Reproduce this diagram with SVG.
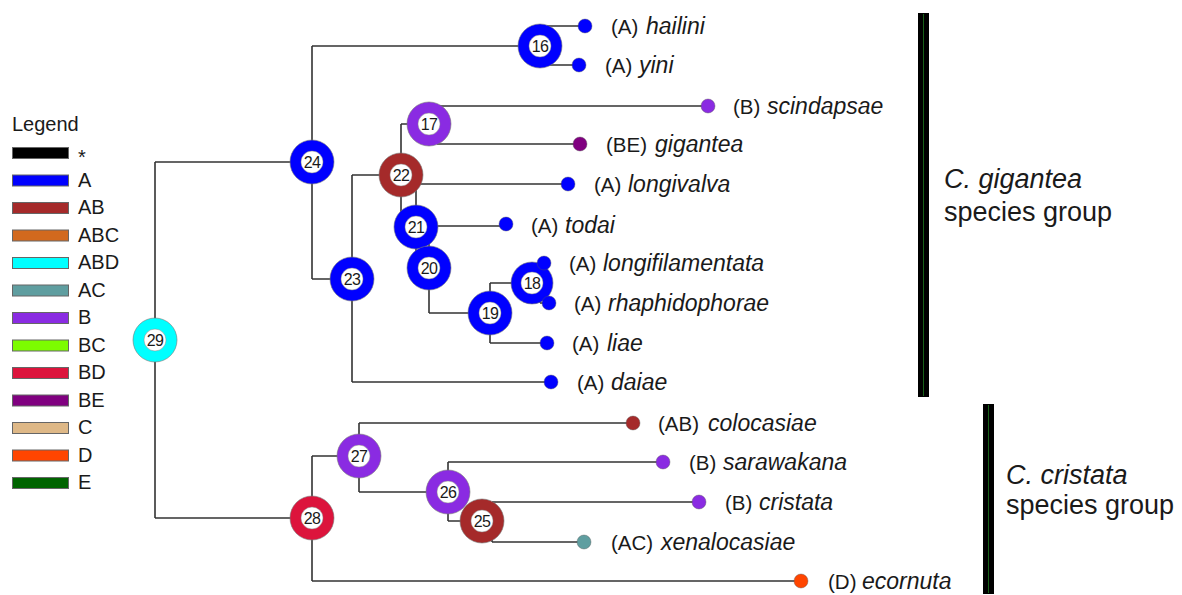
<svg xmlns="http://www.w3.org/2000/svg" width="1182" height="595" viewBox="0 0 1182 595">
  <style>
    text { font-family: "Liberation Sans", Arial, sans-serif; fill: #1a1a1a; }
    .br { fill: none; stroke: #333; stroke-width: 1.6; }
    .ring { stroke: #777; stroke-width: 0.6; }
    .hole { fill: #fff; stroke: #888; stroke-width: 0.5; }
    .num { font-size: 16px; text-anchor: middle; letter-spacing: -0.6px; }
    .tip { stroke: #555; stroke-width: 0.4; }
    .pre { font-size: 20.5px; }
    .sp { font-size: 23px; font-style: italic; }
    .sw { stroke: #666; stroke-width: 1; }
    .lg { font-size: 20px; }
    .grp { font-size: 27px; }
    .A { fill: #0000FF; } .AB { fill: #A52A2A; } .ABC { fill: #D2691E; }
    .ABD { fill: #00FFFF; } .AC { fill: #5F9EA0; } .B { fill: #8A2BE2; }
    .BC { fill: #7CFC00; } .BD { fill: #DC143C; } .BE { fill: #800080; }
    .C { fill: #DEB887; } .D { fill: #FF4500; } .E { fill: #006400; }
    .K { fill: #000; }
  </style>

  <!-- branches -->
  <g id="connectors" class="br">
    <path d="M155,162 V518 M155,162 H312 M155,518 H312"/>
    <path d="M312,46 V279 M312,46 H540 M312,279 H352"/>
    <path d="M547,26 V65 M547,26 H585 M547,65 H579"/>
    <path d="M352,175 V382 M352,175 H401 M352,382 H551"/>
    <path d="M401,124 V227 M401,124 H429 M401,227 H416"/>
    <path d="M437,106 V144 M437,106 H708 M437,144 H580"/>
    <path d="M416,184 V268 M416,184 H568 M416,268 H429"/>
    <path d="M429,226 V313 M429,226 H506 M429,313 H490"/>
    <path d="M490,283 V343 M490,283 H532 M490,343 H547"/>
    <path d="M540,263 V303 M540,263 H544 M540,303 H549"/>
    <path d="M312,456 V581 M312,456 H359 M312,581 H801"/>
    <path d="M359,423 V492 M359,423 H633 M359,492 H448"/>
    <path d="M448,462 V521 M448,462 H663 M448,521 H482"/>
    <path d="M492,502 V542 M492,502 H699 M492,542 H584"/>
  </g>

  <!-- ancestral range nodes -->
  <g id="node29"><circle class="ring ABD" cx="155" cy="340" r="22"/><circle class="hole" cx="155" cy="340" r="11"/><text class="num" x="155" y="346">29</text></g>
  <g id="node24"><circle class="ring A" cx="312" cy="162" r="22"/><circle class="hole" cx="312" cy="162" r="11"/><text class="num" x="312" y="168">24</text></g>
  <g id="node16"><circle class="ring A" cx="540" cy="46" r="22"/><circle class="hole" cx="540" cy="46" r="11"/><text class="num" x="540" y="52">16</text></g>
  <g id="node23"><circle class="ring A" cx="352" cy="279" r="22"/><circle class="hole" cx="352" cy="279" r="11"/><text class="num" x="352" y="285">23</text></g>
  <g id="node17"><circle class="ring B" cx="429" cy="124" r="22"/><circle class="hole" cx="429" cy="124" r="11"/><text class="num" x="429" y="130">17</text></g>
  <g id="node22"><circle class="ring AB" cx="401" cy="175" r="22"/><circle class="hole" cx="401" cy="175" r="11"/><text class="num" x="401" y="181">22</text></g>
  <g id="node21"><circle class="ring A" cx="416" cy="227" r="22"/><circle class="hole" cx="416" cy="227" r="11"/><text class="num" x="416" y="233">21</text></g>
  <g id="node20"><circle class="ring A" cx="429" cy="268" r="22"/><circle class="hole" cx="429" cy="268" r="11"/><text class="num" x="429" y="274">20</text></g>
  <g id="node19"><circle class="ring A" cx="490" cy="313" r="22"/><circle class="hole" cx="490" cy="313" r="11"/><text class="num" x="490" y="319">19</text></g>
  <g id="node18"><circle class="ring A" cx="532" cy="283" r="21"/><circle class="hole" cx="532" cy="283" r="11"/><text class="num" x="532" y="289">18</text></g>
  <g id="node28"><circle class="ring BD" cx="312" cy="518" r="22"/><circle class="hole" cx="312" cy="518" r="11"/><text class="num" x="312" y="524">28</text></g>
  <g id="node27"><circle class="ring B" cx="359" cy="456" r="22"/><circle class="hole" cx="359" cy="456" r="11"/><text class="num" x="359" y="462">27</text></g>
  <g id="node26"><circle class="ring B" cx="448" cy="492" r="22"/><circle class="hole" cx="448" cy="492" r="11"/><text class="num" x="448" y="498">26</text></g>
  <g id="node25"><circle class="ring AB" cx="482" cy="521" r="22"/><circle class="hole" cx="482" cy="521" r="11"/><text class="num" x="482" y="527">25</text></g>

  <!-- terminal taxa -->
  <g id="tip-hailini"><circle class="tip A" cx="585" cy="26" r="7"/><text y="34"><tspan class="pre" x="611">(A)</tspan><tspan class="sp" x="646">hailini</tspan></text></g>
  <g id="tip-yini"><circle class="tip A" cx="579" cy="65" r="7"/><text y="73"><tspan class="pre" x="605">(A)</tspan><tspan class="sp" x="639">yini</tspan></text></g>
  <g id="tip-scindapsae"><circle class="tip B" cx="708" cy="106" r="7"/><text y="114"><tspan class="pre" x="733">(B)</tspan><tspan class="sp" x="767">scindapsae</tspan></text></g>
  <g id="tip-gigantea"><circle class="tip BE" cx="580" cy="144" r="7"/><text y="152"><tspan class="pre" x="606">(BE)</tspan><tspan class="sp" x="655">gigantea</tspan></text></g>
  <g id="tip-longivalva"><circle class="tip A" cx="568" cy="184" r="7"/><text y="192"><tspan class="pre" x="594">(A)</tspan><tspan class="sp" x="628">longivalva</tspan></text></g>
  <g id="tip-todai"><circle class="tip A" cx="506" cy="224" r="7"/><text y="233"><tspan class="pre" x="531">(A)</tspan><tspan class="sp" x="565">todai</tspan></text></g>
  <g id="tip-longifilamentata"><circle class="tip A" cx="544" cy="263" r="7"/><text y="271"><tspan class="pre" x="569">(A)</tspan><tspan class="sp" x="603">longifilamentata</tspan></text></g>
  <g id="tip-rhaphidophorae"><circle class="tip A" cx="549" cy="303" r="7"/><text y="311"><tspan class="pre" x="574">(A)</tspan><tspan class="sp" x="608">rhaphidophorae</tspan></text></g>
  <g id="tip-liae"><circle class="tip A" cx="547" cy="343" r="7"/><text y="351"><tspan class="pre" x="572">(A)</tspan><tspan class="sp" x="607">liae</tspan></text></g>
  <g id="tip-daiae"><circle class="tip A" cx="551" cy="382" r="7"/><text y="390"><tspan class="pre" x="577">(A)</tspan><tspan class="sp" x="611">daiae</tspan></text></g>
  <g id="tip-colocasiae"><circle class="tip AB" cx="633" cy="423" r="7"/><text y="431"><tspan class="pre" x="658">(AB)</tspan><tspan class="sp" x="708">colocasiae</tspan></text></g>
  <g id="tip-sarawakana"><circle class="tip B" cx="663" cy="462" r="7"/><text y="470"><tspan class="pre" x="689">(B)</tspan><tspan class="sp" x="723">sarawakana</tspan></text></g>
  <g id="tip-cristata"><circle class="tip B" cx="699" cy="502" r="7"/><text y="510"><tspan class="pre" x="725">(B)</tspan><tspan class="sp" x="759">cristata</tspan></text></g>
  <g id="tip-xenalocasiae"><circle class="tip AC" cx="584" cy="542" r="7"/><text y="550"><tspan class="pre" x="611">(AC)</tspan><tspan class="sp" x="661">xenalocasiae</tspan></text></g>
  <g id="tip-ecornuta"><circle class="tip D" cx="801" cy="581" r="7"/><text y="589"><tspan class="pre" x="828">(D)</tspan><tspan class="sp" x="862">ecornuta</tspan></text></g>

  <!-- species group bars -->
  <g id="group-gigantea">
    <rect x="918" y="13" width="11" height="384" fill="#000"/>
    <line x1="923.5" y1="14" x2="923.5" y2="396" stroke="#1e7a1e" stroke-width="0.8"/>
    <text class="grp" x="944" y="188"><tspan font-style="italic">C. gigantea</tspan></text>
    <text class="grp" x="944" y="221">species group</text>
  </g>
  <g id="group-cristata">
    <rect x="983" y="404" width="11" height="190" fill="#000"/>
    <line x1="988.5" y1="405" x2="988.5" y2="593" stroke="#1e7a1e" stroke-width="0.8"/>
    <text class="grp" x="1006" y="484"><tspan font-style="italic">C. cristata</tspan></text>
    <text class="grp" x="1006" y="514">species group</text>
  </g>

  <!-- legend -->
  <g id="legend">
    <text class="lg" x="12" y="131">Legend</text>
    <rect class="sw K" x="12.5" y="147.5" width="56" height="11"/><text class="lg" x="78" y="164" font-size="14px">*</text>
    <rect class="sw A" x="12.5" y="175" width="56" height="11"/><text class="lg" x="78" y="186.5">A</text>
    <rect class="sw AB" x="12.5" y="202.5" width="56" height="11"/><text class="lg" x="78" y="214">AB</text>
    <rect class="sw ABC" x="12.5" y="230" width="56" height="11"/><text class="lg" x="78" y="241.5">ABC</text>
    <rect class="sw ABD" x="12.5" y="257.5" width="56" height="11"/><text class="lg" x="78" y="269">ABD</text>
    <rect class="sw AC" x="12.5" y="285" width="56" height="11"/><text class="lg" x="78" y="296.5">AC</text>
    <rect class="sw B" x="12.5" y="312.5" width="56" height="11"/><text class="lg" x="78" y="324">B</text>
    <rect class="sw BC" x="12.5" y="340" width="56" height="11"/><text class="lg" x="78" y="351.5">BC</text>
    <rect class="sw BD" x="12.5" y="367.5" width="56" height="11"/><text class="lg" x="78" y="379">BD</text>
    <rect class="sw BE" x="12.5" y="395" width="56" height="11"/><text class="lg" x="78" y="406.5">BE</text>
    <rect class="sw C" x="12.5" y="422.5" width="56" height="11"/><text class="lg" x="78" y="434">C</text>
    <rect class="sw D" x="12.5" y="450" width="56" height="11"/><text class="lg" x="78" y="461.5">D</text>
    <rect class="sw E" x="12.5" y="477.5" width="56" height="11"/><text class="lg" x="78" y="489">E</text>
  </g>
</svg>
